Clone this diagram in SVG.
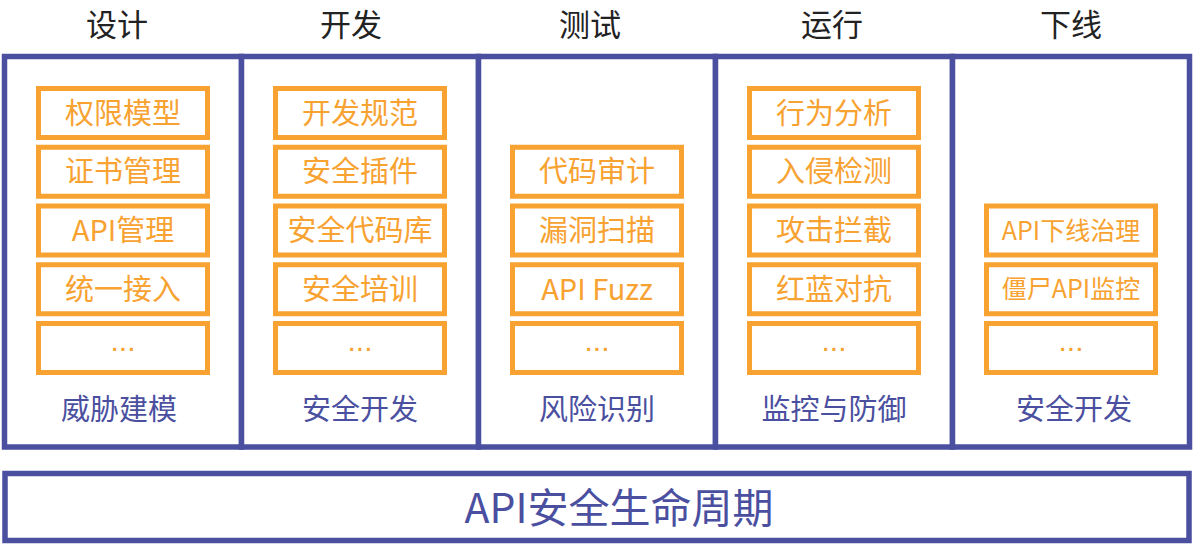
<svg xmlns="http://www.w3.org/2000/svg" width="1197" height="552" viewBox="0 0 1197 552">
<style>
.col{fill:#fff;stroke:#4b4f9f;stroke-width:5.5}
.box{fill:#fff;stroke:#f7a231;stroke-width:5}
.hd{font-family:"Noto Sans CJK SC",sans-serif;font-size:31px;fill:#222;text-anchor:middle}
.bt{font-family:"Noto Sans CJK SC",sans-serif;font-size:29px;fill:#f7a231;text-anchor:middle}
.bs{font-family:"Noto Sans CJK SC",sans-serif;font-size:25px;fill:#f7a231;text-anchor:middle}
.dots{font-family:"Liberation Sans",sans-serif;font-size:30px;fill:#f7a231;text-anchor:middle}
.lb{font-family:"Noto Sans CJK SC",sans-serif;font-size:29px;fill:#4b4f9f;text-anchor:middle}
.big{font-family:"Noto Sans CJK SC",sans-serif;font-size:41px;fill:#4b4f9f;text-anchor:middle}
</style>
<rect width="1197" height="552" fill="#fff"/>
<g id="headers">
<text class="hd" x="117" y="36">设计</text>
<text class="hd" x="351" y="36">开发</text>
<text class="hd" x="590" y="36">测试</text>
<text class="hd" x="832" y="36">运行</text>
<text class="hd" x="1071" y="36">下线</text>
</g>
<g id="col-design">
<rect class="col" x="4.5" y="56.5" width="237" height="390.5"/>
<rect class="box" x="38.5" y="88.5" width="169" height="49"/>
<text class="bt" x="123" y="123.6">权限模型</text>
<rect class="box" x="38.5" y="147.25" width="169" height="49"/>
<text class="bt" x="123" y="182.35">证书管理</text>
<rect class="box" x="38.5" y="206" width="169" height="49"/>
<text class="bt" x="123" y="241.1">API管理</text>
<rect class="box" x="38.5" y="264.75" width="169" height="49"/>
<text class="bt" x="123" y="299.85">统一接入</text>
<rect class="box" x="38.5" y="323.5" width="169" height="49"/>
<text class="dots" x="123" y="350.5">...</text>
<text class="lb" x="119" y="420">威胁建模</text>
</g>
<g id="col-dev">
<rect class="col" x="241.5" y="56.5" width="237" height="390.5"/>
<rect class="box" x="275.5" y="88.5" width="169" height="49"/>
<text class="bt" x="360" y="123.6">开发规范</text>
<rect class="box" x="275.5" y="147.25" width="169" height="49"/>
<text class="bt" x="360" y="182.35">安全插件</text>
<rect class="box" x="275.5" y="206" width="169" height="49"/>
<text class="bt" x="360" y="241.1">安全代码库</text>
<rect class="box" x="275.5" y="264.75" width="169" height="49"/>
<text class="bt" x="360" y="299.85">安全培训</text>
<rect class="box" x="275.5" y="323.5" width="169" height="49"/>
<text class="dots" x="360" y="350.5">...</text>
<text class="lb" x="360" y="420">安全开发</text>
</g>
<g id="col-test">
<rect class="col" x="478.5" y="56.5" width="237" height="390.5"/>
<rect class="box" x="512.5" y="147.25" width="169" height="49"/>
<text class="bt" x="597" y="182.35">代码审计</text>
<rect class="box" x="512.5" y="206" width="169" height="49"/>
<text class="bt" x="597" y="241.1">漏洞扫描</text>
<rect class="box" x="512.5" y="264.75" width="169" height="49"/>
<text class="bt" x="597" y="299.85">API Fuzz</text>
<rect class="box" x="512.5" y="323.5" width="169" height="49"/>
<text class="dots" x="597" y="350.5">...</text>
<text class="lb" x="597" y="420">风险识别</text>
</g>
<g id="col-run">
<rect class="col" x="715.5" y="56.5" width="237" height="390.5"/>
<rect class="box" x="749.5" y="88.5" width="169" height="49"/>
<text class="bt" x="834" y="123.6">行为分析</text>
<rect class="box" x="749.5" y="147.25" width="169" height="49"/>
<text class="bt" x="834" y="182.35">入侵检测</text>
<rect class="box" x="749.5" y="206" width="169" height="49"/>
<text class="bt" x="834" y="241.1">攻击拦截</text>
<rect class="box" x="749.5" y="264.75" width="169" height="49"/>
<text class="bt" x="834" y="299.85">红蓝对抗</text>
<rect class="box" x="749.5" y="323.5" width="169" height="49"/>
<text class="dots" x="834" y="350.5">...</text>
<text class="lb" x="834" y="420">监控与防御</text>
</g>
<g id="col-offline">
<rect class="col" x="952.5" y="56.5" width="237" height="390.5"/>
<rect class="box" x="986.5" y="206" width="169" height="49"/>
<text class="bs" x="1071" y="239.5">API下线治理</text>
<rect class="box" x="986.5" y="264.75" width="169" height="49"/>
<text class="bs" x="1071" y="298.25">僵尸API监控</text>
<rect class="box" x="986.5" y="323.5" width="169" height="49"/>
<text class="dots" x="1071" y="350.5">...</text>
<text class="lb" x="1074" y="420">安全开发</text>
</g>
<g id="lifecycle">
<rect class="col" x="5" y="473.5" width="1184" height="67"/>
<text class="big" x="619" y="523">API安全生命周期</text>
</g>
<g id="connectors"></g>
</svg>
